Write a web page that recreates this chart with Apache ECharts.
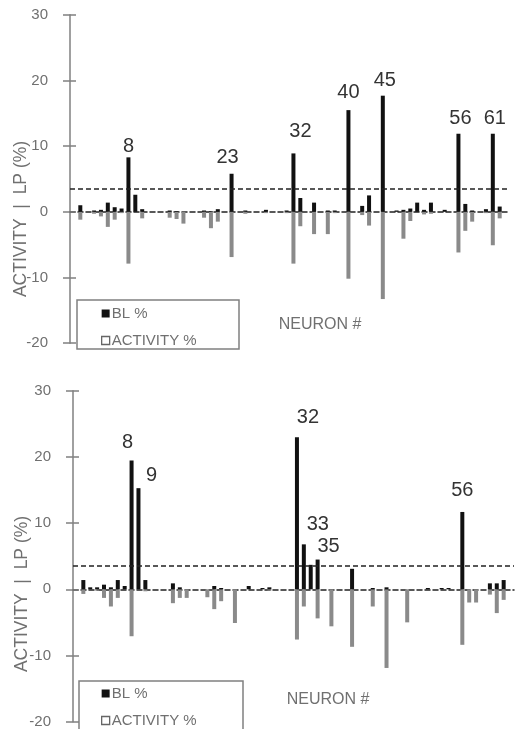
<!DOCTYPE html>
<html>
<head>
<meta charset="utf-8">
<script src="https://cdn.jsdelivr.net/npm/echarts@6/dist/echarts.min.js"></script>
<style>
html,body{margin:0;padding:0;background:#fff;}
#main{width:515px;height:729px;}
</style>
</head>
<body>
<div id="main"></div>
<script>
// ---- data ----
const neurons = Array.from({length: 64}, (_, i) => String(i));
const yTicks = [-20, -10, 0, 10, 20, 30];
const threshold = 3.5;

const topBL = [
  null, 1.0, 0, 0.2, 0.3, 1.4, 0.7, 0.5, 8.3, 2.6,
  0.4, 0, 0, 0, 0.2, 0.1, 0, 0, 0, 0.2,
  0.1, 0.4, 0, 5.8, 0, 0.2, 0, 0, 0.3, 0,
  0, 0.2, 8.9, 2.1, 0, 1.4, 0, 0.2, 0.2, 0,
  15.5, 0, 0.9, 2.5, 0, 17.7, 0, 0.2, 0.3, 0.5,
  1.4, 0.3, 1.4, 0, 0.3, 0, 11.9, 1.2, 0.2, 0,
  0.4, 11.9, 0.8, null
];
const topActivity = [
  null, -1.2, 0, -0.3, -0.7, -2.3, -1.2, -0.2, -7.9, 0,
  -1.0, 0, 0, 0, -0.9, -1.1, -1.8, 0, 0, -0.9,
  -2.5, -1.5, 0, -6.9, 0, -0.3, 0, 0, -0.2, 0,
  0, -0.2, -7.9, -2.2, 0, -3.4, 0, -3.4, -0.2, 0,
  -10.2, 0, -0.5, -2.1, 0, -13.3, 0, 0, -4.1, -1.4,
  0, -0.4, -0.3, 0, 0, 0, -6.2, -2.9, -1.5, 0,
  -0.2, -5.1, -1.0, null
];
const bottomBL = [
  null, 1.4, 0.3, 0.3, 0.7, 0.3, 1.4, 0.5, 19.5, 15.3,
  1.4, 0, 0, 0, 0.9, 0.3, 0, 0, 0, 0,
  0.5, 0.2, 0, 0, 0, 0.5, 0, 0.2, 0.3, 0,
  0, 0, 23.0, 6.8, 3.7, 4.5, 0, 0, 0, 0,
  3.1, 0, 0, 0.2, 0, 0.3, 0, 0, 0, 0,
  0, 0.2, 0, 0.2, 0.2, 0, 11.7, 0, 0, 0,
  0.9, 0.9, 1.4, null
];
const bottomActivity = [
  null, -0.7, 0, -0.2, -1.3, -2.6, -1.3, 0, -7.1, 0,
  -0.3, 0, 0, 0, -2.1, -1.3, -1.3, 0, 0, -1.2,
  -3.0, -1.8, 0, -5.1, 0, 0, 0, 0, -0.2, 0,
  0, 0, -7.6, -2.6, 0, -4.4, 0, -5.6, 0, 0,
  -8.7, 0, 0, -2.6, 0, -11.9, 0, 0, -5.0, 0,
  0, 0, 0, 0, 0, 0, -8.4, -2.0, -2.0, 0,
  -0.8, -3.6, -1.6, null
];
const topLabeled = [8, 23, 32, 40, 45, 56, 61];
const bottomLabeled = [8, 9, 32, 33, 35, 56];

const seriesNames = ['BL %', 'ACTIVITY %'];
const yTitle = 'ACTIVITY  |  LP (%)';
const xTitle = 'NEURON #';

// ---- styling (positions of labels, not data) ----
const topLabelOffsets = {8: [0, 4], 23: [-4, -1], 32: [7, -7], 40: [0, -3], 45: [2, 0], 56: [2, 0], 61: [2, 0]};
const bottomLabelOffsets = {8: [-4, -3], 9: [13, 2], 32: [11, -5], 33: [14, -5], 35: [11, 2], 56: [0, -6]};

const FONT = '"Liberation Sans", Arial, sans-serif';
const GRAY_TEXT = '#707070';

function blData(values, labeled, offsets) {
  return values.map((v, i) => {
    if (labeled.indexOf(i) >= 0) {
      return {
        value: v,
        label: {
          show: true, position: 'top', distance: 5,
          formatter: String(i), offset: offsets[i] || [0, 0],
          fontSize: 20, color: '#333', fontFamily: FONT
        }
      };
    }
    return v;
  });
}

const grids = [
  {left: 70, top: 15, width: 440, height: 328},
  {left: 73, top: 391, width: 441, height: 331}
];

function makeYAxes(gi) {
  return [
    {
      type: 'value', gridIndex: gi, min: yTicks[0], max: yTicks[yTicks.length - 1], interval: 10,
      splitLine: {show: false},
      axisLine: {show: true, lineStyle: {color: '#a0a0a0', width: 2}},
      axisTick: {show: true, length: 7, lineStyle: {color: '#808080', width: 1.5}},
      axisLabel: {margin: 22, fontSize: 15, color: GRAY_TEXT, fontFamily: FONT}
    },
    {
      type: 'value', gridIndex: gi, min: yTicks[0], max: yTicks[yTicks.length - 1], interval: 10,
      position: 'left', offset: 0,
      splitLine: {show: false},
      axisLine: {show: false},
      axisTick: {show: true, inside: true, length: 6, lineStyle: {color: '#808080', width: 1.5}},
      axisLabel: {show: false}
    }
  ];
}

function makeXAxis(gi) {
  return {
    type: 'category', gridIndex: gi, data: neurons,
    axisLine: {show: true, onZero: true, lineStyle: {color: '#222', width: 1.5, type: [5, 3]}},
    axisTick: {show: false},
    axisLabel: {show: false},
    splitLine: {show: false}
  };
}

function makeSeries(gi, bl, act, labeled, offsets) {
  const yIdx = gi * 2;
  return [
    {
      name: seriesNames[1], type: 'bar', xAxisIndex: gi, yAxisIndex: yIdx,
      data: act, barWidth: 4, barGap: '-100%',
      itemStyle: {color: '#8a8a8a'}, silent: true, animation: false
    },
    {
      name: seriesNames[0], type: 'bar', xAxisIndex: gi, yAxisIndex: yIdx,
      data: blData(bl, labeled, offsets), barWidth: 4, barGap: '-100%',
      itemStyle: {color: '#111'}, silent: true, animation: false,
      markLine: {
        silent: true, symbol: ['none', 'none'], label: {show: false},
        lineStyle: {color: '#222', width: 1.5, type: [5, 3]},
        data: [{yAxis: threshold}], animation: false
      }
    }
  ];
}

function legendFor(top) {
  return {
    orient: 'vertical', left: 101, top: top, padding: 0, z: 20,
    itemWidth: 8, itemHeight: 8, itemGap: 12, icon: 'rect',
    selectedMode: false,
    textStyle: {fontSize: 15, color: GRAY_TEXT, fontFamily: FONT, padding: [0, 0, 0, -3]},
    data: [
      {name: seriesNames[0], itemStyle: {color: '#111'}},
      {name: seriesNames[1], itemStyle: {color: '#fff', borderColor: '#666', borderWidth: 1.3}}
    ]
  };
}

function textEl(x, y, text, size, rot) {
  return {
    type: 'text', x: x, y: y, rotation: rot || 0, silent: true, z: 30,
    style: {text: text, fontSize: size, fill: GRAY_TEXT, fontFamily: FONT, textAlign: 'center', textVerticalAlign: 'middle'}
  };
}

const option = {
  backgroundColor: '#fff',
  animation: false,
  grid: grids,
  xAxis: [makeXAxis(0), makeXAxis(1)],
  yAxis: makeYAxes(0).concat(makeYAxes(1)),
  legend: [legendFor(306), legendFor(686)],
  series: makeSeries(0, topBL, topActivity, topLabeled, topLabelOffsets)
    .concat(makeSeries(1, bottomBL, bottomActivity, bottomLabeled, bottomLabelOffsets)),
  graphic: {
    z: 1,
    elements: [
      {type: 'rect', shape: {x: 77, y: 300, width: 162, height: 49}, style: {fill: '#fff', stroke: '#808080', lineWidth: 1.5}, z: 1, silent: true},
      {type: 'rect', shape: {x: 79, y: 681, width: 164, height: 60}, style: {fill: '#fff', stroke: '#808080', lineWidth: 1.5}, z: 1, silent: true},
      textEl(320, 325, xTitle, 16),
      textEl(328, 700, xTitle, 16),
      textEl(21, 219, yTitle, 17.5, Math.PI / 2),
      textEl(22, 594, yTitle, 17.5, Math.PI / 2)
    ]
  }
};

const chart = echarts.init(document.getElementById('main'), null, {renderer: 'canvas'});
chart.setOption(option);
</script>
</body>
</html>
